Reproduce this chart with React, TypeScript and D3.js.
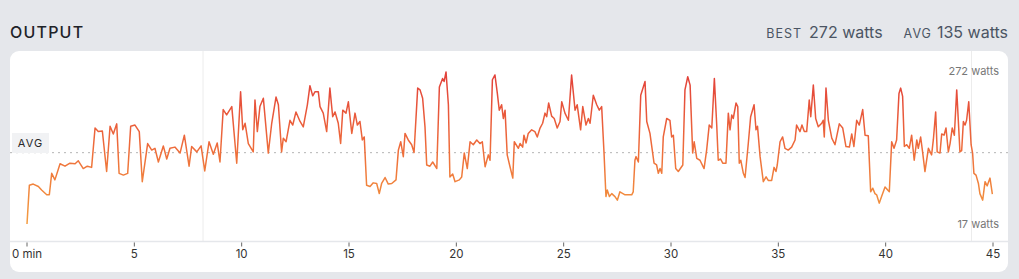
import React from "react";
import * as d3 from "d3";

const minutes = [0,0.11,0.29,0.53,0.68,0.92,1.04,1.15,1.30,1.54,1.77,2.00,2.24,2.39,2.62,2.81,3.01,3.17,3.32,3.51,3.71,3.87,4.02,4.18,4.29,4.49,4.69,4.83,5.03,5.23,5.37,5.62,5.81,5.96,6.12,6.35,6.51,6.66,6.89,7.13,7.33,7.55,7.67,7.91,8.11,8.28,8.48,8.68,8.86,8.99,9.14,9.30,9.54,9.77,9.95,10.05,10.16,10.31,10.54,10.62,10.73,10.85,11.01,11.24,11.40,11.60,11.71,11.86,11.94,12.07,12.25,12.38,12.53,12.72,12.87,13.06,13.18,13.31,13.42,13.57,13.65,13.80,13.96,14.11,14.24,14.35,14.50,14.61,14.71,14.86,14.97,15.13,15.28,15.39,15.51,15.62,15.71,15.82,15.98,16.13,16.29,16.41,16.52,16.68,16.83,16.99,17.19,17.30,17.41,17.53,17.61,17.76,17.92,18.03,18.20,18.31,18.43,18.54,18.62,18.77,18.90,19.09,19.21,19.36,19.43,19.52,19.63,19.70,19.83,19.94,20.14,20.25,20.37,20.51,20.64,20.79,20.95,21.10,21.21,21.34,21.49,21.57,21.68,21.80,21.91,22.00,22.11,22.19,22.27,22.37,22.50,22.63,22.70,22.89,22.97,23.09,23.15,23.25,23.35,23.51,23.66,23.77,23.90,24.02,24.13,24.21,24.30,24.44,24.56,24.70,24.83,24.91,25.06,25.22,25.37,25.53,25.63,25.79,25.89,26.04,26.15,26.23,26.38,26.54,26.66,26.77,26.88,26.97,27.03,27.13,27.24,27.39,27.50,27.62,27.86,28.17,28.24,28.32,28.37,28.48,28.59,28.79,28.87,29.02,29.21,29.33,29.41,29.49,29.57,29.64,29.80,29.95,30.03,30.11,30.22,30.34,30.55,30.65,30.78,30.89,31.01,31.08,31.20,31.35,31.54,31.66,31.78,31.90,32.02,32.13,32.20,32.31,32.41,32.56,32.67,32.75,32.83,32.90,33.03,33.11,33.18,33.25,33.37,33.45,33.60,33.71,33.87,33.96,34.03,34.15,34.30,34.43,34.53,34.69,34.80,34.89,34.95,35.08,35.20,35.31,35.46,35.62,35.78,35.85,36.01,36.10,36.21,36.32,36.44,36.51,36.63,36.74,36.86,37.02,37.09,37.14,37.22,37.33,37.49,37.64,37.84,38.00,38.15,38.31,38.42,38.52,38.65,38.77,38.93,39.04,39.19,39.30,39.40,39.50,39.58,39.70,39.81,39.97,40.17,40.28,40.39,40.51,40.62,40.70,40.79,40.87,40.98,41.10,41.21,41.33,41.45,41.52,41.63,41.72,41.83,41.99,42.14,42.22,42.33,42.40,42.53,42.61,42.72,42.81,42.92,43.00,43.10,43.20,43.31,43.46,43.54,43.62,43.70,43.77,43.87,43.98,44.05,44.11,44.21,44.32,44.39,44.52,44.63,44.73,44.86,44.97];

const watts = [17,82,84,80,74,66,66,102,91,118,114,119,118,123,110,114,112,178,172,173,105,181,168,185,102,99,102,181,183,172,88,152,141,144,121,148,126,144,146,136,166,114,147,138,148,106,155,134,153,121,209,200,214,119,239,175,186,152,138,225,172,214,228,136,186,230,217,138,161,155,191,183,205,189,180,217,249,232,239,239,214,203,172,245,197,205,186,152,208,203,222,169,203,183,189,158,163,82,80,86,85,68,85,95,84,85,91,141,155,130,169,158,150,137,245,242,228,180,116,114,121,110,247,261,256,272,217,96,101,88,91,96,136,110,155,150,158,152,155,113,133,124,259,267,236,208,217,194,208,133,113,94,155,144,152,146,166,153,169,175,172,163,178,186,203,197,220,198,194,178,189,222,203,191,267,208,217,175,214,183,194,186,233,217,208,214,136,63,74,63,68,63,57,71,66,66,71,124,130,121,233,256,189,169,119,116,102,110,102,163,194,191,163,166,110,105,116,242,264,250,136,155,127,124,110,141,183,178,261,183,124,126,119,119,203,175,200,194,220,214,119,124,102,95,152,197,217,175,181,130,88,96,90,90,112,105,116,155,163,144,141,146,158,183,172,183,172,172,225,197,250,194,180,186,191,163,245,191,161,150,185,178,147,146,168,147,191,183,209,166,165,71,77,68,66,52,63,79,71,155,144,158,236,245,231,147,150,144,166,124,158,144,163,138,105,144,133,158,205,138,136,168,166,178,138,152,178,166,242,138,140,189,183,191,222,150,136,102,99,85,68,57,88,81,94,67];

const xTicks = [0, 5, 10, 15, 20, 25, 30, 35, 40, 45];
const markerMinutes = [8.2, 44.0];
const bestWatts = 272;
const avgWatts = 135;
const minWatts = 17;

const FONT = "Inter, 'Noto Sans', sans-serif";

export default function App() {
  const W = 1019, H = 279;
  const x = d3.scaleLinear().domain([0, 45]).range([27, 993]);
  const y = d3.scaleLinear().domain([minWatts, bestWatts]).range([224, 72]);
  const pts: [number, number][] = minutes.map((m, i) => [m, watts[i]]);
  const line = d3.line<[number, number]>().x(d => x(d[0])).y(d => y(d[1]));
  const cardL = 10, cardR = 1008, cardT = 51, cardB = 272;
  const axisY = 241.5;
  return (
    <svg width={W} height={H} style={{ position: "absolute", left: 0, top: 0, display: "block" }} fontFamily={FONT}>
      <defs>
        <linearGradient id="pw" gradientUnits="userSpaceOnUse" x1={0} y1={y(bestWatts)} x2={0} y2={y(minWatts)}>
          <stop offset="0" stopColor="#e2403a" />
          <stop offset="0.5" stopColor="#ee6c3b" />
          <stop offset="1" stopColor="#f39c40" />
        </linearGradient>
      </defs>
      <rect x={0} y={0} width={W} height={H} fill="#e5e7eb" />
      <text x={10} y={38} fontSize={16} fontWeight={500} letterSpacing={1.2} fill="#1f2328">OUTPUT</text>
      <text x={1008} y={38} textAnchor="end" fill="#4b5563">
        <tspan fontSize={12.5} letterSpacing={1}>BEST</tspan>
        <tspan fontSize={16} dx={7}>{bestWatts} watts</tspan>
        <tspan fontSize={12.5} letterSpacing={1} dx={21}>AVG</tspan>
        <tspan fontSize={16} dx={5}>{avgWatts} watts</tspan>
      </text>
      <rect x={cardL} y={cardT} width={cardR - cardL} height={cardB - cardT} rx={9} fill="#ffffff" />
      {markerMinutes.map((m, i) => (
        <line key={i} x1={x(m)} x2={x(m)} y1={cardT} y2={axisY} stroke="#ececec" strokeWidth={1} />
      ))}
      <line x1={cardL} x2={cardR} y1={axisY} y2={axisY} stroke="#e5e7eb" strokeWidth={1.5} />
      {xTicks.map(t => (
        <g key={t}>
          <line x1={x(t)} x2={x(t)} y1={axisY + 1} y2={axisY + 5} stroke="#666" strokeWidth={1} />
          <text x={x(t)} y={258} textAnchor="middle" fontSize={11.5} fill="#333">{t === 0 ? "0 min" : String(t)}</text>
        </g>
      ))}
      <line x1={cardL} x2={cardR} y1={y(avgWatts) - 1} y2={y(avgWatts) - 1} stroke="#b5b5b5" strokeWidth={1} strokeDasharray="2,4" />
      <rect x={12} y={133} width={37} height={20} fill="#f1f2f4" />
      <text x={30.5} y={147} textAnchor="middle" fontSize={11} letterSpacing={1} fill="#2a2a2a">AVG</text>
      <path d={line(pts) || ""} fill="none" stroke="url(#pw)" strokeWidth={1.5} strokeLinejoin="round" />
      <text x={999} y={75} textAnchor="end" fontSize={11} fill="#777">{bestWatts} watts</text>
      <text x={999} y={228} textAnchor="end" fontSize={11} fill="#777">{minWatts} watts</text>
    </svg>
  );
}
